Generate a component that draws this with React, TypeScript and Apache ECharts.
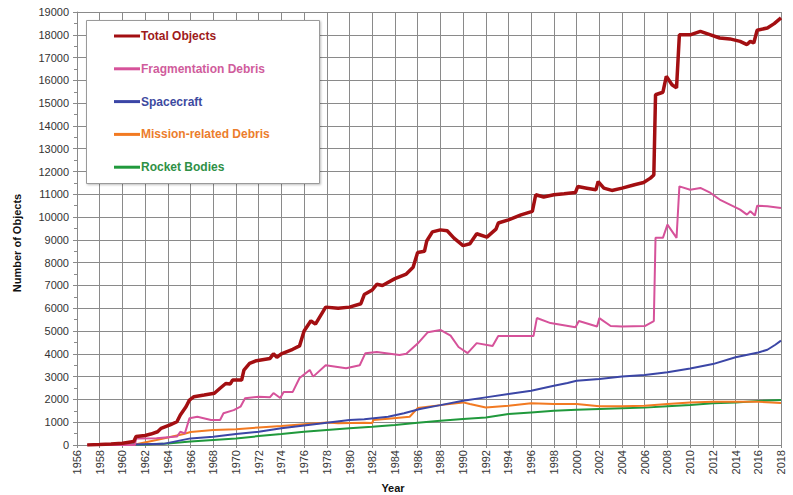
import React, { useEffect, useRef } from "react";
import * as echarts from "echarts";

const seriesNames = ["Total Objects", "Fragmentation Debris", "Spacecraft", "Mission-related Debris", "Rocket Bodies"];
const seriesColors = ["#a30f12", "#d6529a", "#3b46a6", "#f27a22", "#20993c"];
const legendTextColors = ["#9e1a1a", "#d05c9c", "#3d4aa0", "#ec7d2c", "#2f9046"];

const yearTicks = [1956, 2018];
const valueTicks = [0, 19000];

const totalObjects: [number, number][] = [
  [1956.9, 0], [1958, 20], [1959, 40], [1960, 80], [1961, 150], [1961.2, 370], [1962, 420], [1962.5, 480],
  [1963.1, 580], [1963.4, 730], [1964.2, 880], [1964.8, 1020], [1965.1, 1320], [1965.6, 1680], [1965.9, 1970],
  [1966.3, 2120], [1967.2, 2190], [1968.1, 2270], [1968.6, 2490], [1969.1, 2700], [1969.5, 2680], [1969.7, 2850],
  [1970.5, 2850], [1970.7, 3290], [1971.2, 3580], [1971.8, 3700], [1973, 3800], [1973.3, 4000], [1973.6, 3850],
  [1974, 4000], [1975, 4200], [1975.6, 4350], [1976, 5000], [1976.6, 5450], [1977, 5300], [1977.9, 6050],
  [1979, 6000], [1980, 6050], [1981, 6200], [1981.3, 6600], [1982, 6800], [1982.4, 7050], [1982.9, 7000],
  [1984, 7300], [1985, 7500], [1985.6, 7800], [1986, 8450], [1986.6, 8500], [1986.8, 8950], [1987.3, 9350],
  [1988, 9440], [1988.6, 9400], [1989.2, 9080], [1990, 8750], [1990.6, 8830], [1991.2, 9270], [1992.1, 9120],
  [1992.9, 9470], [1993.1, 9740], [1994, 9880], [1995.1, 10100], [1996.1, 10250], [1996.4, 10980], [1997.1, 10880],
  [1998, 10980], [1998.9, 11020], [1999.9, 11080], [2000.1, 11340], [2000.9, 11270], [2001.7, 11200], [2001.9, 11560],
  [2002.4, 11270], [2003.1, 11170], [2004, 11270], [2005.1, 11420], [2005.9, 11520], [2006.5, 11710], [2006.8, 11850],
  [2006.95, 15370], [2007.6, 15480], [2007.9, 16180], [2008.4, 15810], [2008.8, 15670], [2009.05, 18000], [2010, 18000],
  [2010.9, 18150], [2011.8, 18000], [2012.6, 17860], [2013.5, 17820], [2014.4, 17710], [2015, 17570], [2015.3, 17710],
  [2015.6, 17640], [2015.9, 18200], [2016.8, 18300], [2017.4, 18490], [2018, 18740],
];

const fragmentationDebris: [number, number][] = [
  [1956.9, 0], [1961.1, 0], [1961.2, 280], [1963, 300], [1964.8, 370], [1965.1, 580], [1965.5, 510], [1965.9, 1170],
  [1966.6, 1240], [1967.8, 1100], [1968.6, 1100], [1968.9, 1390], [1969.8, 1530], [1970.4, 1680], [1970.8, 2050],
  [1972, 2120], [1973, 2100], [1973.3, 2280], [1973.9, 2060], [1974.2, 2330], [1975, 2330], [1975.6, 2940],
  [1976.5, 3290], [1976.8, 3000], [1977.9, 3500], [1979.7, 3370], [1980.9, 3500], [1981.4, 4030], [1982.4, 4080],
  [1984.4, 3950], [1985, 4000], [1986, 4450], [1986.9, 4950], [1988, 5050], [1988.9, 4800], [1989.6, 4300],
  [1990.4, 4030], [1991.2, 4470], [1992.6, 4340], [1993.1, 4780], [1996.2, 4780], [1996.5, 5570], [1997.7, 5350],
  [1999.9, 5170], [2000.2, 5440], [2001.8, 5200], [2002, 5570], [2003, 5220], [2004, 5200], [2006, 5220],
  [2006.8, 5440], [2006.95, 9090], [2007.6, 9090], [2008, 9670], [2008.5, 9310], [2008.8, 9090], [2009.05, 11350],
  [2010, 11200], [2010.9, 11280], [2011.8, 11060], [2012.6, 10770], [2013.5, 10550], [2014.4, 10330], [2015, 10110],
  [2015.3, 10260], [2015.7, 10070], [2015.9, 10500], [2016.8, 10480], [2018, 10400],
];

const spacecraft: [number, number][] = [
  [1957, 0], [1960, 10], [1963.6, 50], [1966, 290], [1968, 365], [1970, 480], [1972, 585], [1974, 730],
  [1976, 860], [1978, 980], [1980, 1100], [1981.3, 1130], [1983.4, 1240], [1984.8, 1390], [1986.2, 1580],
  [1988, 1750], [1990, 1940], [1992, 2090], [1994, 2240], [1996, 2380], [1998, 2600], [1999.2, 2720],
  [2000, 2820], [2002, 2900], [2004, 3010], [2006, 3070], [2008, 3190], [2010, 3360], [2012, 3550],
  [2014, 3850], [2016, 4060], [2016.8, 4180], [2017.5, 4400], [2018, 4580],
];

const missionDebris: [number, number][] = [
  [1957, 0], [1961, 10], [1963, 220], [1965.4, 480], [1966, 570], [1968, 660], [1970, 690], [1972, 770],
  [1974, 830], [1976, 910], [1978, 990], [1979, 950], [1981.3, 980], [1982, 960], [1982.1, 1100], [1983.4, 1150],
  [1985.3, 1240], [1986, 1620], [1988, 1750], [1990, 1870], [1990.6, 1800], [1992, 1650], [1994, 1725],
  [1996, 1830], [1998, 1800], [2000, 1800], [2002, 1700], [2004, 1700], [2006, 1725], [2008, 1800],
  [2010, 1870], [2012, 1900], [2014, 1900], [2016, 1900], [2018, 1840],
];

const rocketBodies: [number, number][] = [
  [1957, 0], [1962, 20], [1964, 70], [1966, 150], [1968, 220], [1970, 290], [1972, 390], [1974, 480],
  [1976, 585], [1978, 660], [1980, 730], [1982, 800], [1984, 880], [1986, 980], [1988, 1060], [1990, 1140],
  [1992, 1210], [1994, 1360], [1996, 1430], [1998, 1500], [2000, 1550], [2002, 1580], [2004, 1610],
  [2006, 1640], [2008, 1700], [2010, 1750], [2012, 1830], [2014, 1870], [2016, 1930], [2018, 1970],
];

const seriesData = [totalObjects, fragmentationDebris, spacecraft, missionDebris, rocketBodies];
const lineWidths = [3.5, 2, 2, 2, 2];

const FONT = "'Liberation Sans', Arial, sans-serif";

export default function App() {
  const ref = useRef<HTMLDivElement>(null);
  useEffect(() => {
    if (!ref.current) return;
    const chart = echarts.init(ref.current, undefined, { renderer: "svg" });
    const gridColor = "#8a8a8a";
    chart.setOption({
      animation: false,
      backgroundColor: "#ffffff",
      grid: { left: 77, right: 12, top: 12, bottom: 50 },
      xAxis: {
        type: "value",
        min: yearTicks[0],
        max: yearTicks[1],
        interval: 2,
        axisLine: { show: true, lineStyle: { color: gridColor } },
        axisTick: { show: true, length: 3, lineStyle: { color: gridColor } },
        axisLabel: {
          rotate: 90,
          fontSize: 11,
          color: "#333",
          fontFamily: FONT,
          margin: 5,
          formatter: (v: number) => String(v),
        },
        splitLine: { show: true, lineStyle: { color: gridColor, width: 1 } },
      },
      yAxis: {
        type: "value",
        min: valueTicks[0],
        max: valueTicks[1],
        interval: 1000,
        axisLine: { show: true, lineStyle: { color: gridColor } },
        axisTick: { show: true, length: 4, lineStyle: { color: gridColor } },
        minorTick: { show: true, splitNumber: 2, length: 3, lineStyle: { color: gridColor } },
        axisLabel: { fontSize: 11, color: "#333", fontFamily: FONT, margin: 8, formatter: (v: number) => String(v) },
        splitLine: { show: true, lineStyle: { color: gridColor, width: 1 } },
      },
      legend: {
        orient: "vertical",
        left: 109,
        top: 25,
        itemWidth: 26,
        itemHeight: 3,
        itemGap: 20.8,
        icon: "rect",
        selectedMode: false,
        data: seriesNames.map((n, i) => ({
          name: n,
          textStyle: { color: legendTextColors[i], fontWeight: "bold", fontSize: 12, fontFamily: FONT },
        })),
        textStyle: { padding: [0, 0, 0, -4] },
      },
      graphic: [
        {
          type: "rect",
          z: 1,
          shape: { x: 86.5, y: 20.5, width: 233, height: 163 },
          style: { fill: "#ffffff", stroke: "#9a9a9a", lineWidth: 1, shadowBlur: 2, shadowColor: "rgba(0,0,0,0.25)", shadowOffsetX: 1, shadowOffsetY: 1 },
        },
        {
          type: "text",
          x: 393,
          y: 488,
          style: { text: "Year", font: `bold 11px ${FONT}`, fill: "#111", align: "center", verticalAlign: "middle" },
        },
        {
          type: "text",
          x: 17,
          y: 243,
          rotation: Math.PI / 2,
          style: { text: "Number of Objects", font: `bold 11px ${FONT}`, fill: "#111", align: "center", verticalAlign: "middle" },
        },
      ],
      series: seriesNames.map((n, i) => ({
        name: n,
        type: "line",
        data: seriesData[i],
        showSymbol: false,
        symbol: "none",
        z: i === 0 ? 4 : 3 - i * 0.1,
        itemStyle: { color: seriesColors[i] },
        lineStyle: { color: seriesColors[i], width: lineWidths[i] },
      })),
    });
    return () => chart.dispose();
  }, []);
  return <div ref={ref} style={{ width: 793, height: 495, position: "absolute", left: 0, top: 0 }} />;
}
